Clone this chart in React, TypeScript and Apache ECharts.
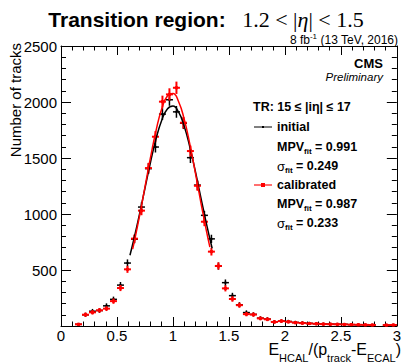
import React, { useEffect, useRef } from "react";
import * as echarts from "echarts";

// Bin centres (bin width 0.0625) of the drawn bins
const binCenters = [
  0.15625, 0.21875, 0.28125, 0.34375, 0.40625, 0.46875, 0.53125, 0.59375,
  0.65625, 0.71875, 0.78125, 0.84375, 0.90625, 0.96875, 1.03125, 1.09375,
  1.15625, 1.21875, 1.28125, 1.34375, 1.40625, 1.46875, 1.53125, 1.59375,
  1.65625, 1.71875, 1.78125, 1.84375, 1.90625, 1.96875, 2.03125, 2.09375,
  2.15625, 2.21875, 2.28125, 2.34375, 2.40625, 2.46875, 2.53125, 2.59375,
  2.65625, 2.71875, 2.78125, 2.84375, 2.90625, 2.96875,
];
const BIN_HALF_WIDTH = 0.03125;

const initialCounts = [
  15, 100, 132, 138, 180, 238, 365, 562, 775, 1062, 1405, 1598, 1892, 2020,
  1912, 1810, 1503, 1258, 988, 778, 535, 387, 271, 190, 120, 104, 70, 62, 38,
  44, 40, 32, 28, 24, 20, 18, 17, 16, 15, 12, 11, 10, 9, null, 8, 9,
];
const calibratedCounts = [
  15, 101, 122, 140, 155, 222, 339, 506, 780, 1030, 1410, 1690, 2003, 2068,
  2127, 1815, 1562, 1252, 931, 664, 536, 336, 241, 186, 106, 102, 68, 60, 36,
  44, 38, 30, 26, 22, 20, 17, 16, 15, 14, 12, 11, 10, 9, null, 8, 9,
];

// Fit curves
const initialFitX = [0.616, 0.65, 0.7, 0.75, 0.8, 0.85, 0.9, 0.95, 1.0, 1.05, 1.1, 1.15, 1.2, 1.25, 1.3, 1.35];
const initialFitY = [632, 770, 992, 1230, 1464, 1674, 1838, 1938, 1965, 1911, 1786, 1602, 1382, 1144, 910, 694];
const calibratedFitX = [0.64, 0.65, 0.7, 0.75, 0.8, 0.85, 0.9, 0.95, 1.0, 1.05, 1.1, 1.15, 1.2, 1.25, 1.3, 1.33];
const calibratedFitY = [686, 731, 974, 1240, 1507, 1749, 1940, 2054, 2077, 2005, 1849, 1628, 1369, 1100, 844, 704];

const X_MIN = 0;
const X_MAX = 3;
const X_INTERVAL = 0.5;
const Y_MIN = 0;
const Y_MAX = 2500;
const Y_INTERVAL = 500;

const SANS = "'Liberation Sans', Arial, Helvetica, sans-serif";
const SERIF = "'Liberation Serif', 'Times New Roman', serif";

function pointsOf(counts: (number | null)[]) {
  const out: number[][] = [];
  counts.forEach((c, i) => {
    if (c !== null && c !== undefined) out.push([binCenters[i], c]);
  });
  return out;
}

function errorSeries(name: string, counts: (number | null)[], color: string, lw: number, marker: number) {
  return {
    type: "custom",
    name,
    xAxisIndex: 0,
    yAxisIndex: 0,
    data: pointsOf(counts),
    encode: { x: 0, y: 1 },
    renderItem: (_params: any, api: any) => {
      const x = api.value(0);
      const y = api.value(1);
      const err = Math.sqrt(y);
      const c = api.coord([x, y]);
      const l = api.coord([x - BIN_HALF_WIDTH, y]);
      const r = api.coord([x + BIN_HALF_WIDTH, y]);
      const t = api.coord([x, y + err]);
      const b = api.coord([x, Math.max(0, y - err)]);
      return {
        type: "group",
        children: [
          { type: "line", shape: { x1: l[0], y1: c[1], x2: r[0], y2: c[1] }, style: { stroke: color, lineWidth: lw } },
          { type: "line", shape: { x1: c[0], y1: t[1] - 1, x2: c[0], y2: b[1] + 1 }, style: { stroke: color, lineWidth: lw } },
          { type: "rect", shape: { x: c[0] - marker / 2, y: c[1] - marker / 2, width: marker, height: marker }, style: { fill: color } },
        ],
      };
    },
  };
}

function fitSeries(name: string, xs: number[], ys: number[], color: string, lw: number) {
  return {
    type: "line",
    name,
    data: xs.map((x, i) => [x, ys[i]]),
    smooth: true,
    showSymbol: false,
    lineStyle: { color, width: lw },
    z: 3,
  };
}

function axisCommon(showLabel: boolean, tickLen: number, minorLen: number) {
  return {
    axisLine: { show: true, onZero: false, lineStyle: { color: "#000", width: 1 } },
    axisTick: { show: true, inside: true, length: tickLen, lineStyle: { color: "#000", width: 1 } },
    minorTick: { show: true, splitNumber: 5, length: minorLen, lineStyle: { color: "#000", width: 1 } },
    splitLine: { show: false },
    minorSplitLine: { show: false },
    axisLabel: { show: showLabel },
  };
}

function richText(key: string, x: number, y: number, parts: string, rich: any, align = "left", vAlign = "middle") {
  return {
    type: "text",
    id: key,
    x,
    y,
    style: {
      text: parts,
      rich,
      fill: "#000",
      align,
      verticalAlign: vAlign,
      textAlign: align,
      textVerticalAlign: vAlign,
    },
    z: 10,
  };
}

const legendRich = {
  b: { fontFamily: SANS, fontSize: 12.5, fontWeight: "bold", lineHeight: 13, verticalAlign: "top", fill: "#000" },
  g: { fontFamily: SANS, fontSize: 13, fontWeight: "normal", lineHeight: 13, verticalAlign: "top", fill: "#000" },
  s: { fontFamily: SANS, fontSize: 8, fontWeight: "bold", lineHeight: 15, verticalAlign: "bottom", fill: "#000" },
};

export default function App() {
  const ref = useRef<HTMLDivElement>(null);
  useEffect(() => {
    if (!ref.current) return;
    const chart = echarts.init(ref.current, undefined, { renderer: "svg" });
    const option: any = {
      animation: false,
      backgroundColor: "#fff",
      grid: { left: 61, top: 46, right: 7, bottom: 38, show: false },
      xAxis: [
        {
          type: "value",
          position: "bottom",
          min: X_MIN,
          max: X_MAX,
          interval: X_INTERVAL,
          ...axisCommon(true, 9, 4.5),
          axisLabel: {
            show: true,
            color: "#000",
            fontFamily: SANS,
            fontSize: 15,
            margin: 2,
            formatter: (v: number) => String(v),
          },
        },
        {
          type: "value",
          position: "top",
          min: X_MIN,
          max: X_MAX,
          interval: X_INTERVAL,
          ...axisCommon(false, 9, 4.5),
        },
      ],
      yAxis: [
        {
          type: "value",
          position: "left",
          min: Y_MIN,
          max: Y_MAX,
          interval: Y_INTERVAL,
          ...axisCommon(true, 10, 5),
          axisLabel: {
            show: true,
            color: "#000",
            fontFamily: SANS,
            fontSize: 15,
            margin: 4,
            formatter: (v: number) => (v === 0 ? "" : String(v)),
          },
        },
        {
          type: "value",
          position: "right",
          min: Y_MIN,
          max: Y_MAX,
          interval: Y_INTERVAL,
          ...axisCommon(false, 10, 5),
        },
      ],
      series: [
        errorSeries("initial", initialCounts, "#000000", 1.5, 2),
        fitSeries("initial fit", initialFitX, initialFitY, "#000000", 1.5),
        errorSeries("calibrated", calibratedCounts, "#ff0000", 2, 3),
        fitSeries("calibrated fit", calibratedFitX, calibratedFitY, "#ff0000", 1.5),
      ],
      graphic: [
        // Title
        richText("title", 206, 19, "{a|Transition region:}{m|   1.2 < |}{e|η}{m|| < 1.5}", {
          a: { fontFamily: SANS, fontSize: 21, fontWeight: "bold", fill: "#000", lineHeight: 26, verticalAlign: "middle" },
          m: { fontFamily: SERIF, fontSize: 22, fill: "#000", lineHeight: 26, verticalAlign: "middle" },
          e: { fontFamily: SERIF, fontSize: 22, fontStyle: "italic", fill: "#000", lineHeight: 26, verticalAlign: "middle" },
        }, "center", "middle"),
        // Luminosity
        richText("lumi", 398, 32, "{n|8 fb}{p|-1}{n| (13 TeV, 2016)}", {
          n: { fontFamily: SANS, fontSize: 12, fill: "#000", lineHeight: 14, verticalAlign: "bottom" },
          p: { fontFamily: SANS, fontSize: 8, fill: "#000", lineHeight: 14, verticalAlign: "top" },
        }, "right", "top"),
        // CMS Preliminary
        {
          type: "text",
          x: 383,
          y: 63,
          style: { text: "CMS", fontFamily: SANS, fontSize: 13, fontWeight: "bold", fill: "#000", align: "right", verticalAlign: "middle", textAlign: "right", textVerticalAlign: "middle" },
          z: 10,
        },
        {
          type: "text",
          x: 383,
          y: 77,
          style: { text: "Preliminary", fontFamily: SANS, fontSize: 11.5, fontStyle: "italic", fill: "#000", align: "right", verticalAlign: "middle", textAlign: "right", textVerticalAlign: "middle" },
          z: 10,
        },
        // Legend block
        {
          type: "text",
          x: 253,
          y: 107,
          style: { text: "TR: 15 ≤ |iη| ≤ 17", fontFamily: SANS, fontSize: 12.5, fontWeight: "bold", fill: "#000", align: "left", verticalAlign: "middle", textAlign: "left", textVerticalAlign: "middle" },
          z: 10,
        },
        { type: "line", shape: { x1: 254, y1: 127, x2: 272, y2: 127 }, style: { stroke: "#000", lineWidth: 1 }, z: 10 },
        { type: "rect", shape: { x: 262, y: 126, width: 2, height: 2 }, style: { fill: "#000" }, z: 10 },
        {
          type: "text",
          x: 277,
          y: 127,
          style: { text: "initial", fontFamily: SANS, fontSize: 12.5, fontWeight: "bold", fill: "#000", align: "left", verticalAlign: "middle", textAlign: "left", textVerticalAlign: "middle" },
          z: 10,
        },
        richText("mpv1", 277, 140.5, "{b|MPV}{s|fit}{b| = 0.991}", legendRich, "left", "top"),
        richText("sig1", 277, 159.8, "{g|σ}{s|fit}{b| = 0.249}", legendRich, "left", "top"),
        { type: "line", shape: { x1: 254, y1: 185, x2: 272, y2: 185 }, style: { stroke: "#ff4040", lineWidth: 1.5 }, z: 10 },
        { type: "rect", shape: { x: 261, y: 183, width: 4, height: 4 }, style: { fill: "#ff0000" }, z: 10 },
        {
          type: "text",
          x: 277,
          y: 185,
          style: { text: "calibrated", fontFamily: SANS, fontSize: 12.5, fontWeight: "bold", fill: "#000", align: "left", verticalAlign: "middle", textAlign: "left", textVerticalAlign: "middle" },
          z: 10,
        },
        richText("mpv2", 277, 197.8, "{b|MPV}{s|fit}{b| = 0.987}", legendRich, "left", "top"),
        richText("sig2", 277, 216.8, "{g|σ}{s|fit}{b| = 0.233}", legendRich, "left", "top"),
        // Y axis title
        {
          type: "text",
          x: 15,
          y: 43,
          rotation: Math.PI / 2,
          style: { text: "Number of tracks", fontFamily: SANS, fontSize: 15, fill: "#000", align: "right", verticalAlign: "middle", textAlign: "right", textVerticalAlign: "middle" },
          z: 10,
        },
        // X axis title
        richText("xtitle", 401, 341, "{m|E}{s|HCAL}{m|/(p}{s|track}{m|-E}{s|ECAL}{m|)}", {
          m: { fontFamily: SANS, fontSize: 16, fill: "#000", lineHeight: 17, verticalAlign: "top" },
          s: { fontFamily: SANS, fontSize: 11, fill: "#000", lineHeight: 22.5, verticalAlign: "bottom" },
        }, "right", "top"),
      ],
    };
    chart.setOption(option);
    return () => chart.dispose();
  }, []);
  return (
    <div
      ref={ref}
      style={{ position: "fixed", left: 0, top: 0, width: 404, height: 364, background: "#fff" }}
    />
  );
}
